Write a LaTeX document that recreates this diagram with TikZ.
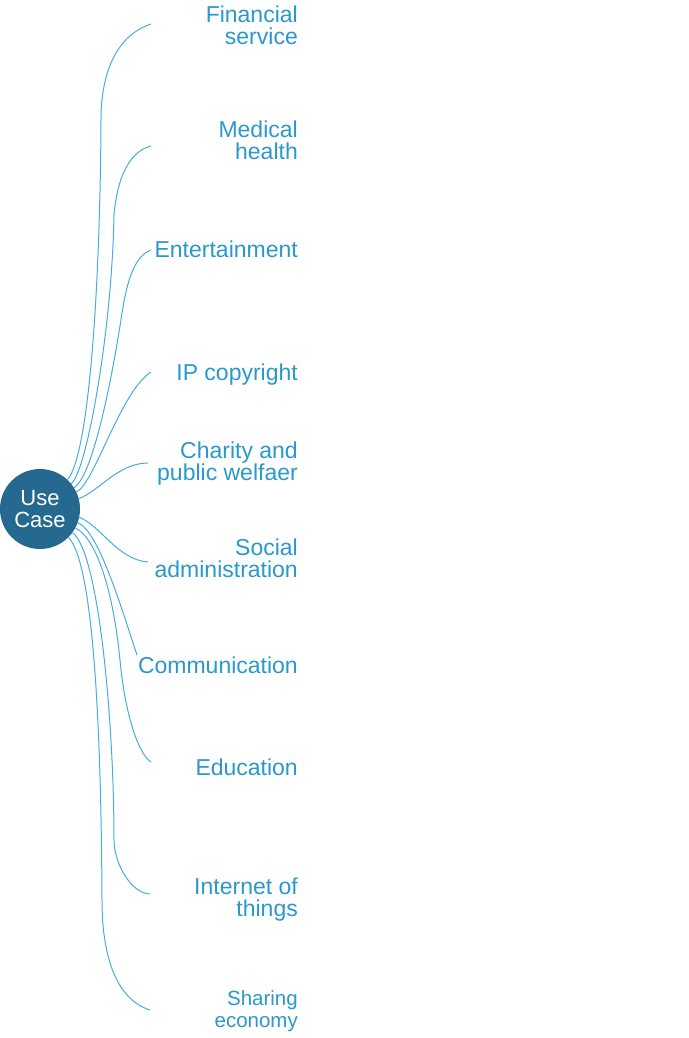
\documentclass[tikz,border=0pt]{standalone}
\usepackage{fontspec}
\setmainfont{Liberation Sans}
\usepackage{xcolor}
\usepackage{tikz}
\usetikzlibrary{calc}
\definecolor{hubblue}{RGB}{37,105,145}
\definecolor{topicblue}{RGB}{42,152,204}
\definecolor{linkblue}{RGB}{72,172,220}
\tikzstyle{hub} = [circle, minimum size=80pt, inner sep=0pt, fill=hubblue, text=white, align=center, font=\fontsize{22}{22}\selectfont]
\tikzstyle{topic} = [anchor=east, inner sep=0pt, align=right, text=topicblue, font=\fontsize{23}{22}\selectfont]
\tikzstyle{smalltopic} = [topic, font=\fontsize{20.5}{22}\selectfont]
\tikzstyle{branch} = [draw=linkblue, line width=1pt]

\begin{document}
\begin{tikzpicture}[x=1pt, y=-1pt]
    \useasboundingbox (0,0) rectangle (688,1038);

    % Central node
    \node[hub] (usecase) at (40,509) {Use\\Case};

    % Topics
    \node[topic] (finance) at (298,25) {Financial\\service};
    \node[topic] (medical) at (298,140) {Medical\\health};
    \node[topic] (fun) at (298,249) {Entertainment};
    \node[topic] (ipr) at (298,375) {IP copyright};
    \node[topic] (charity) at (298,464) {Charity and\\public welfaer};
    \node[topic] (social) at (298,558) {Social\\administration};
    \node[topic] (comm) at (298,665) {Communication};
    \node[topic] (edu) at (298,767) {Education};
    \node[topic] (iot) at (298,900) {Internet of\\things};
    \node[smalltopic] (share) at (298,1011) {Sharing\\economy};

    % Where the branches end
    \coordinate (finance-in) at (151,24);
    \coordinate (medical-in) at (151,146);
    \coordinate (fun-in) at (151,250);
    \coordinate (ipr-in) at (151,372);
    \coordinate (charity-in) at (148,463);
    \coordinate (social-in) at (148,562);
    \coordinate (comm-in) at (137,655);
    \coordinate (edu-in) at (151,762);
    \coordinate (iot-in) at (150,894);
    \coordinate (share-in) at (150,1010);

    % Branches
    \draw[branch] (usecase.47) .. controls ($(usecase.center)!1.75!(usecase.47)$) and (100,300) .. (101,120)
        .. controls (101,70) and (118,35) .. (finance-in);
    \draw[branch] (usecase.39) .. controls ($(usecase.center)!1.5!(usecase.39)$) and (112,330) .. (114,215)
        .. controls (117,180) and (128,152) .. (medical-in);
    \draw[branch] (usecase.32) .. controls ($(usecase.center)!1.6!(usecase.32)$) and (114.5,363) .. (122,313)
        .. controls (128,275) and (136,256) .. (fun-in);
    \draw[branch] (usecase.25) .. controls ($(usecase.center)!1.5!(usecase.25)$) and (120,392) .. (ipr-in);
    \draw[branch] (usecase.15) .. controls (98,492) and (118,463) .. (charity-in);
    \draw[branch] (usecase.348) .. controls (100,525) and (118,560) .. (social-in);
    \draw[branch] (usecase.340) .. controls ($(usecase.center)!1.55!(usecase.340)$) and (122,610) .. (comm-in);
    \draw[branch] (usecase.332) .. controls ($(usecase.center)!1.6!(usecase.332)$) and (113,590) .. (120,660)
        .. controls (124,705) and (136,752) .. (edu-in);
    \draw[branch] (usecase.324) .. controls ($(usecase.center)!1.8!(usecase.324)$) and (114,720) .. (114,840)
        .. controls (114,862) and (130,893) .. (iot-in);
    \draw[branch] (usecase.315) .. controls ($(usecase.center)!1.8!(usecase.315)$) and (101,700) .. (102,900)
        .. controls (102,960) and (118,1000) .. (share-in);
\end{tikzpicture}
\end{document}
